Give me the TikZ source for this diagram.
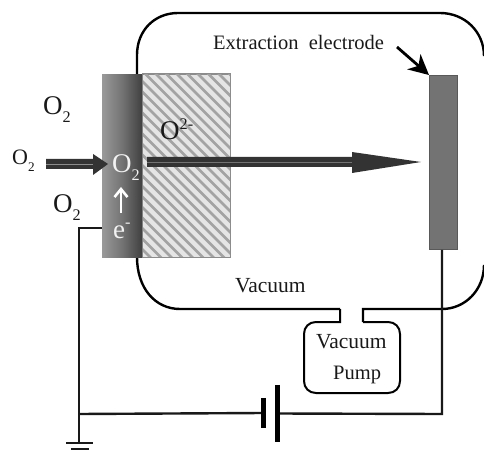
\documentclass[tikz,border=0pt]{standalone}
\usepackage{fontspec}
\usepackage{graphicx}
\setmainfont{Liberation Serif}
\usetikzlibrary{arrows.meta,calc}
\newcommand{\subtwo}{\raisebox{-.28em}{\scalebox{.6}{2}}}
\newcommand{\supup}[1]{\raisebox{.38em}{\scalebox{.6}{#1}}}
\tikzset{
  lbl/.style={inner sep=0pt,font=\fontsize{20.5}{22}\selectfont,text=black!90},
  chem/.style={inner sep=0pt,anchor=base west,font=\fontsize{27}{28}\selectfont,text=black!90},
  wchem/.style={chem,text=white!95!black},
  wire/.style={draw=black!90,line width=2.4pt},
  wall/.style={draw=black,line width=2.4pt},
  plate/.style={draw=black,line width=5pt},
  gplate/.style={draw=black!90,line width=2.4pt},
  block/.style={inner sep=0pt,minimum width=#1,anchor=north west},
}
\definecolor{arrowdark}{gray}{0.2}
\begin{document}
\begin{tikzpicture}[x=1pt,y=-1pt]
\useasboundingbox (0,0) rectangle (484,454);
% chamber
\draw[wall] (340,309) -- (180,309) .. controls (155,309) and (137,288) .. (137,257)
   -- (137,74) -- (137,55) .. controls (137,30) and (155,13) .. (178,13) -- (440,13)
   .. controls (465,13) and (484,32) .. (484,56);
\draw[draw=black!70,line width=1pt] (484,56) -- (484,265);
\draw[wall] (484,265) .. controls (484,290) and (465,309) .. (442,309) -- (363,309) -- (363,322);
% pump
\draw[wall,line width=2pt] (363,322) -- (388,322) .. controls (395,322) and (400,327) .. (400,334)
   -- (400,381) .. controls (400,388) and (395,393) .. (388,393) -- (316,393)
   .. controls (309,393) and (304,388) .. (304,381) -- (304,334)
   .. controls (304,327) and (309,322) .. (316,322) -- (340,322) -- (340,309);
% ceramic block
\node[block=88pt,minimum height=183pt,fill=black!10,draw=black!45,line width=1pt] (ceramic) at (142,74) {};
\begin{scope}
\clip (142,74) rectangle (230,257);
\foreach \k in {-20,...,12}
  \draw[draw=black!36,line width=2.8pt] (142+\k*10.5,60) -- ++(215,215);
\end{scope}
\draw[draw=black!45,line width=1pt] (142,74) rectangle (230,257);
% cathode
\node[block=40pt,minimum height=183pt,left color=black!40,right color=black!75,middle color=black!55] (cathode) at (102,74) {};
% electrode
\node[block=28pt,minimum height=174pt,fill=black!55,draw=black!65,line width=.8pt] (electrode) at (429,75) {};
% circuit
\coordinate (catwire) at (102,228);
\coordinate (corner) at (79,228);
\coordinate (junction) at (79,414);
\coordinate (gnd) at (79,443);
\coordinate (elwire) at (442,414);
\node[inner sep=0pt,minimum width=0pt,minimum height=30pt] (batneg) at (263,413) {};
\node[inner sep=0pt,minimum width=0pt,minimum height=57pt] (batpos) at (277,413.5) {};
\draw[wire,line join=miter] (catwire) -- (corner) -- (gnd);
\draw[wire] (junction) -- (batneg.center);
\draw[wire,line join=miter] (batpos.center) -- (elwire) -- (electrode.south -| elwire);
\draw[plate] (batneg.north) -- (batneg.south);
\draw[plate] (batpos.north) -- (batpos.south);
\draw[gplate] (66,443) -- (93,443);
\draw[gplate] (71,449) -- (89,449);
% flow arrows
\coordinate (inS) at (46,164);
\coordinate (inB) at (93,164);
\coordinate (inT) at (108,164);
\fill[arrowdark] (46,159) -- (93,159) -- (93,154) -- (inT) -- (93,175) -- (93,169) -- (46,169) -- cycle;
\draw[black!45,line width=.6pt] (inS) -- (inB);
\coordinate (outS) at (147,162);
\coordinate (outB) at (352,162);
\coordinate (outT) at (421,162);
\fill[arrowdark] (147,157) -- (352,157) -- (352,152) -- (outT) -- (352,173) -- (352,167) -- (147,167) -- cycle;
\draw[black!55,line width=.6pt] (outS) -- (outB);
% small arrows
\coordinate (eS) at (121,213);
\coordinate (eT) at (121,187);
\draw[draw=white,line width=2.6pt,-{Straight Barb[length=8pt,width=13pt,line width=2.6pt]}] (eS) -- (eT);
\coordinate (lblS) at (397,47);
\draw[draw=black,line width=2.8pt,-{Stealth[length=20pt,width=20pt,inset=6pt]}] (lblS) -- (electrode.north west);
% labels
\node[chem] (o2a) at (43,115) {O\subtwo};
\node[chem,font=\fontsize{22}{24}\selectfont] (o2b) at (12,165) {O\subtwo};
\node[chem] (o2c) at (53,213) {O\subtwo};
\node[wchem] (o2d) at (112,173) {O\subtwo};
\node[wchem] (em) at (113,238) {e\supup{-}};
\node[chem] (o2m) at (160,140) {O\supup{2-}};
\node[lbl,anchor=west] (ee) at (213,42) {Extraction\hspace{.25em} electrode};
\node[lbl,anchor=west,font=\fontsize{21.5}{22}\selectfont] (vac) at (235,286) {Vacuum};
\node[lbl,anchor=west,font=\fontsize{21.5}{22}\selectfont] (vac2) at (316,342) {Vacuum};
\node[lbl,anchor=west] (pump) at (333,375) {Pump};
\end{tikzpicture}
\end{document}
